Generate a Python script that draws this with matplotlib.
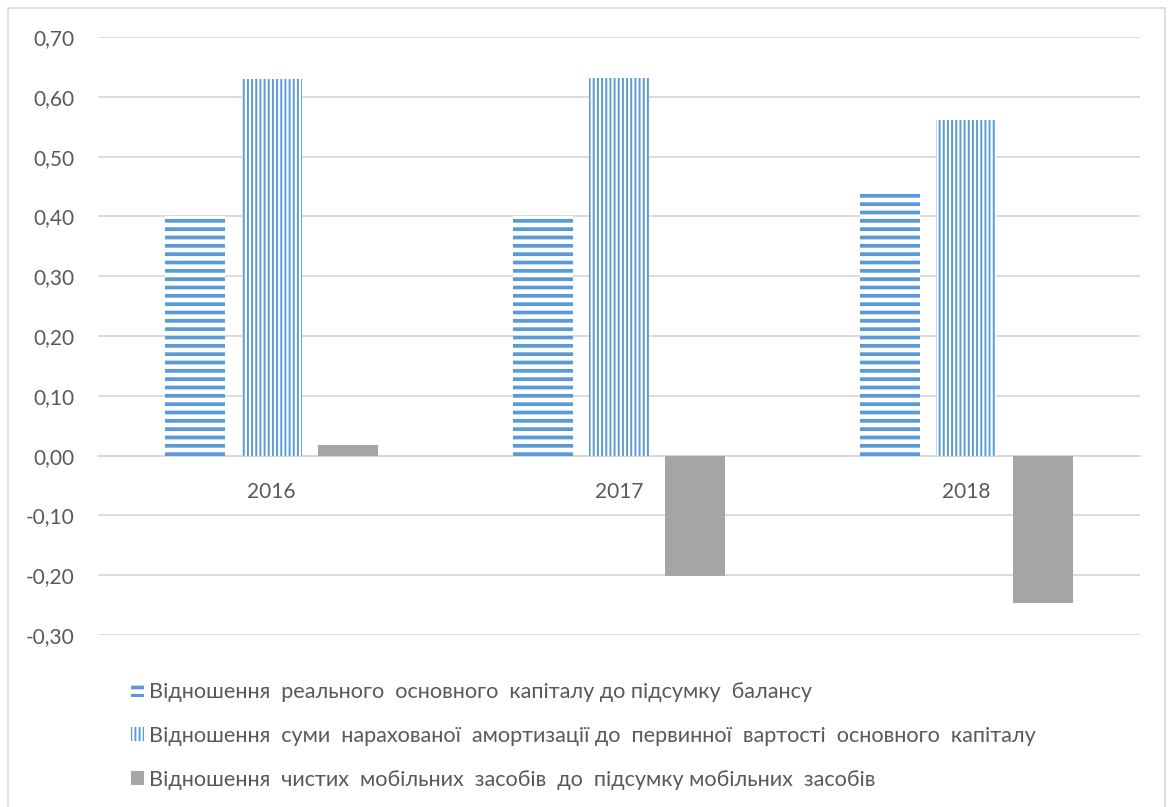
import matplotlib
matplotlib.use("Agg")
import matplotlib.pyplot as plt
from matplotlib.patches import Patch, Rectangle

# Роки та показники
years = ["2016", "2017", "2018"]
real_capital = [0.40, 0.40, 0.44]
depreciation = [0.63, 0.632, 0.562]
net_mobile = [0.017, -0.202, -0.247]

labels = [
    "Відношення  реального  основного  капіталу до підсумку  балансу",
    "Відношення  суми  нарахованої  амортизації до  первинної  вартості  основного  капіталу",
    "Відношення  чистих  мобільних  засобів  до  підсумку мобільних  засобів",
]
y_ticks = [-0.30, -0.20, -0.10, 0.00, 0.10, 0.20, 0.30, 0.40, 0.50, 0.60, 0.70]

BLUE = "#5B9BD5"
GREY = "#A5A5A5"
TEXT = "#595959"
GRID = "#D9D9D9"

plt.rcParams["font.family"] = ["Lato", "DejaVu Sans"]
FS = 15
FS_LEG = 15.6

W, H = 1168, 807
fig = plt.figure(figsize=(W / 100, H / 100), dpi=100)
ax = fig.add_axes([98 / W, 1 - 635 / H, (1140 - 98) / W, (635 - 37) / H])

x = list(range(len(years)))
step, width = 0.22, 0.173


def set_hatch_lw(patch, lw):
    if hasattr(patch, "set_hatch_linewidth"):
        patch.set_hatch_linewidth(lw)


bars1 = ax.bar([i - step for i in x], real_capital, width, facecolor="white",
               edgecolor=BLUE, linewidth=0, hatch="--", zorder=3)
bars2 = ax.bar(x, depreciation, width, facecolor="white",
               edgecolor=BLUE, linewidth=0, hatch="||||", zorder=3)
bars3 = ax.bar([i + step for i in x], net_mobile, width, color=GREY,
               linewidth=0, zorder=3)
for b in bars1:
    set_hatch_lw(b, 2.7)
for b in bars2:
    set_hatch_lw(b, 1.4)

ax.set_xlim(-0.5, 2.5)
ax.set_ylim(-0.30, 0.70)
ax.set_yticks(y_ticks)
ax.set_yticklabels([f"{v:.2f}".replace(".", ",") for v in y_ticks])
ax.set_xticks(x)
ax.set_xticklabels(years)
ax.yaxis.grid(True, color=GRID, linewidth=1.3, zorder=0)
ax.set_axisbelow(True)
for side in ("top", "right", "left"):
    ax.spines[side].set_visible(False)
ax.spines["bottom"].set_position(("data", 0))
ax.spines["bottom"].set_color(GRID)
ax.spines["bottom"].set_linewidth(1.3)
ax.tick_params(axis="y", length=0, pad=17, labelsize=FS, labelcolor=TEXT)
ax.tick_params(axis="x", length=0, pad=19, labelsize=FS, labelcolor=TEXT)

handles = [
    Patch(facecolor="white", edgecolor=BLUE, linewidth=0, hatch="--"),
    Patch(facecolor="white", edgecolor=BLUE, linewidth=0, hatch="||||"),
    Patch(facecolor=GREY, linewidth=0),
]
leg = fig.legend(handles, labels, loc="upper left",
                 bbox_to_anchor=(120 / W, 1 - 671 / H), frameon=False,
                 fontsize=FS_LEG, labelcolor=TEXT, handlelength=0.62,
                 handleheight=0.62, handletextpad=0.2, labelspacing=1.1,
                 borderpad=0)
for h, lw in zip(leg.legend_handles, (2.7, 1.4, 0)):
    if lw:
        set_hatch_lw(h, lw)

# Рамка навколо області діаграми
fig.patches.append(Rectangle((8 / W, -0.1), (1165 - 8) / W, 1.1 - 8 / H,
                             transform=fig.transFigure, fill=False,
                             edgecolor=GRID, linewidth=1.2))

fig.savefig("out.png", dpi=100)
